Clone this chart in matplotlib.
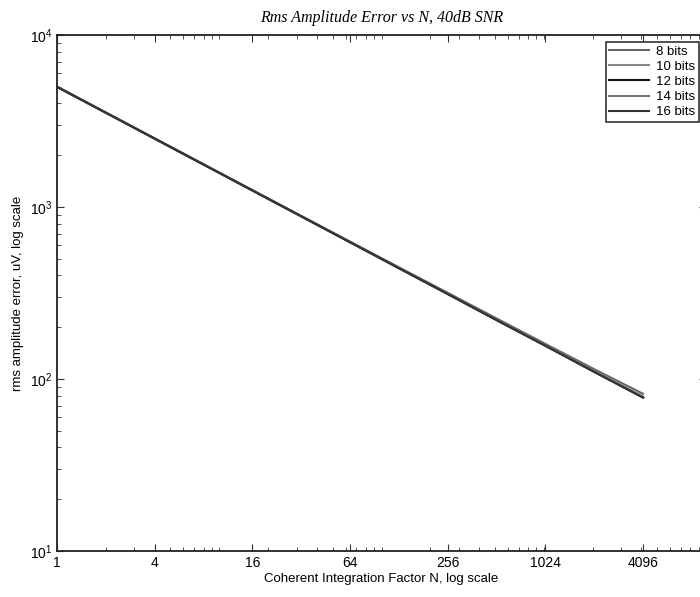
import matplotlib
matplotlib.use("Agg")
import matplotlib.pyplot as plt
from matplotlib.ticker import LogLocator, FixedLocator, FixedFormatter, NullFormatter

# coherent integration factor N
n_values = [1, 2, 4, 8, 16, 32, 64, 128, 256, 512, 1024, 2048, 4096]

# rms amplitude error (uV)
err_8bits = [5010, 3545, 2506, 1773, 1255, 888, 629, 446, 317, 225, 160, 114, 82]
err_10bits = [5000, 3536, 2500, 1768, 1250, 884, 625, 442, 313, 221, 157, 111, 79]
err_12bits = [4995, 3532, 2497, 1766, 1248, 883, 624, 441, 312, 220, 156, 110, 78]
err_14bits = [4997, 3534, 2499, 1767, 1249, 883, 624, 441, 312, 221, 156, 110, 78]
err_16bits = [4994, 3531, 2497, 1765, 1248, 882, 624, 441, 312, 220, 156, 110, 78]

series_labels = ["8 bits", "10 bits", "12 bits", "14 bits", "16 bits"]
x_tick_values = [1, 4, 16, 64, 256, 1024, 4096]
x_tick_labels = ["1", "4", "16", "64", "256", "1024", "4096"]

plt.rcParams['font.family'] = ['Liberation Sans', 'DejaVu Sans']
plt.rcParams['mathtext.fontset'] = 'custom'
plt.rcParams['mathtext.rm'] = 'Liberation Sans'

fig = plt.figure(figsize=(7.0, 5.97), dpi=100)
# axes runs a little past the right edge, like the cropped original
ax = fig.add_axes([57 / 700, 46 / 597, 649 / 700, 516 / 597])

colors = ['#666666', '#888888', '#111111', '#777777', '#333333']
all_err = [err_8bits, err_10bits, err_12bits, err_14bits, err_16bits]
for err, lab, col in zip(all_err, series_labels, colors):
    ax.plot(n_values, err, color=col, linewidth=1.5, label=lab)

ax.set_xscale('log')
ax.set_yscale('log')
ax.set_xlim(1, 10000)
ax.set_ylim(10, 10000)

ax.xaxis.set_major_locator(FixedLocator(x_tick_values))
ax.xaxis.set_major_formatter(FixedFormatter(x_tick_labels))
ax.xaxis.set_minor_locator(LogLocator(base=10, subs=range(1, 10), numticks=50))
ax.xaxis.set_minor_formatter(NullFormatter())
ax.yaxis.set_major_locator(LogLocator(base=10, numticks=10))
ax.yaxis.set_minor_locator(LogLocator(base=10, subs=range(2, 10), numticks=50))
ax.yaxis.set_minor_formatter(NullFormatter())

ax.tick_params(which='both', direction='in', top=True, right=True, labelsize=10, color='#333333')
ax.tick_params(which='major', length=5)
ax.tick_params(which='minor', length=3)
for sp in ax.spines.values():
    sp.set_color('#222222')
    sp.set_linewidth(1.3)

ax.set_title("Rms Amplitude Error vs N, 40dB SNR", family='Liberation Serif',
             style='italic', fontsize=11.5, pad=9)
ax.set_xlabel("Coherent Integration Factor N, log scale", fontsize=9.5, labelpad=2)
ax.set_ylabel("rms amplitude error, uV, log scale", fontsize=9.5, labelpad=4)

leg = ax.legend(loc='upper right', bbox_to_anchor=(0.989, 0.986), fontsize=9.5,
                fancybox=False, framealpha=1, edgecolor='#222222',
                handlelength=3.0, handletextpad=0.6, borderpad=0.25,
                labelspacing=0.22, borderaxespad=0)
leg.get_frame().set_linewidth(1.1)

fig.savefig("out.png", dpi=100)
